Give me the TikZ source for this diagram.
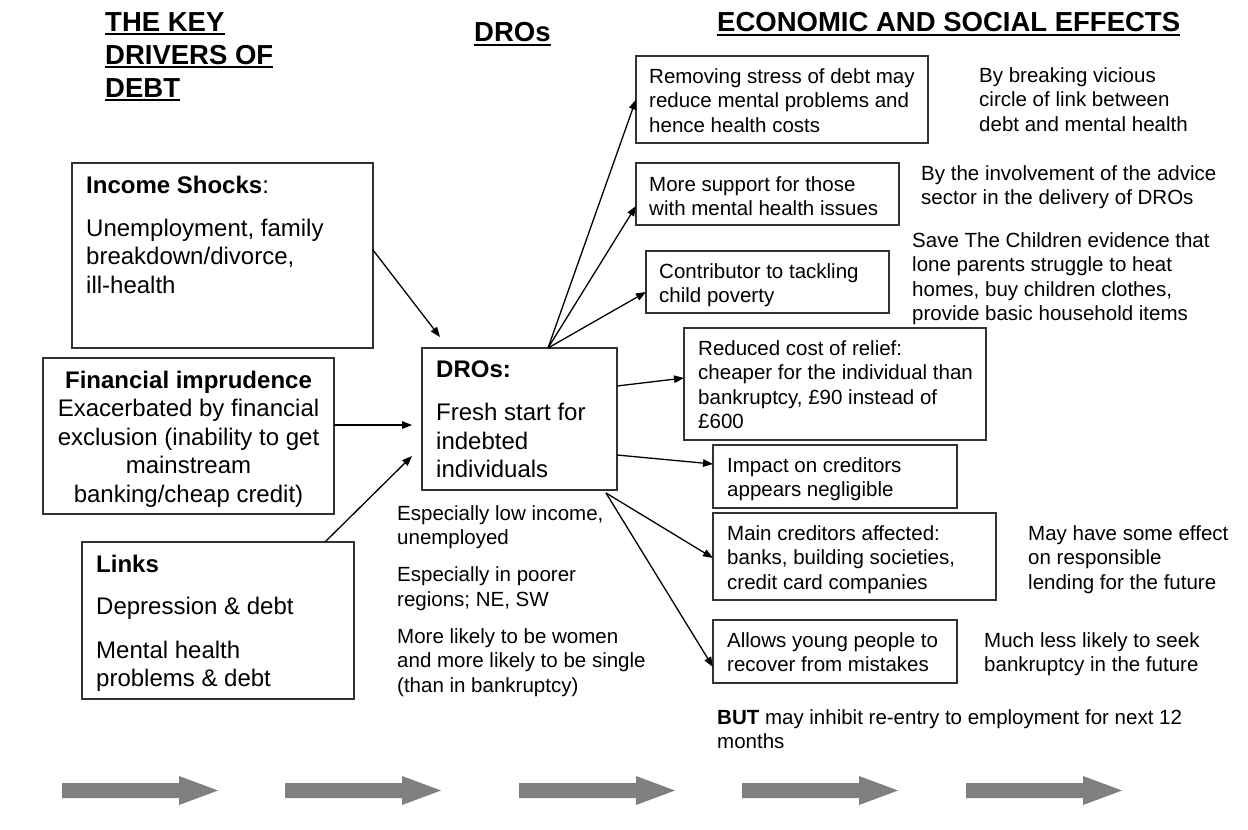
\documentclass[tikz,border=0pt]{standalone}
\usepackage{fontspec}
\setmainfont{Liberation Sans}
\usetikzlibrary{arrows.meta,calc}

\definecolor{boxline}{HTML}{333333}
\definecolor{flowgray}{HTML}{808080}

\newcommand{\headfont}{\fontsize{27.5}{33}\selectfont\bfseries}
\newcommand{\bigtext}{\fontsize{24}{28.5}\selectfont}
\newcommand{\smalltext}{\fontsize{20.5}{24.6}\selectfont}

\tikzset{
  box/.style={draw=boxline, line width=1.2pt, rectangle, inner sep=0pt, outer sep=0pt, anchor=north west},
  head/.style={inner sep=0pt, anchor=base west, font=\headfont},
  bigtxt/.style={inner sep=0pt, anchor=north west, align=left, font=\bigtext},
  smalltxt/.style={inner sep=0pt, anchor=north west, align=left, font=\smalltext},
  link/.style={line width=1.3pt, -{Triangle[length=10pt,width=7.5pt]}},
  uline/.style={line width=2pt},
  flowarrow/.pic={
    \fill[flowgray] (0,-7.5) -- (117,-7.5) -- (117,-14.5) -- (156,0)
      -- (117,14.5) -- (117,7.5) -- (0,7.5) -- cycle;
  }
}

\begin{document}
\begin{tikzpicture}[x=1pt, y=-1pt]
  \fill[white] (0,0) rectangle (1248,830);
  \useasboundingbox (0,0) rectangle (1248,830);

  % column headings
  \node[head] (h1) at (105,31) {THE KEY};
  \node[head] (h2) at (105,64) {DRIVERS OF};
  \node[head] (h3) at (105,97) {DEBT};
  \node[head] (h4) at (474,41.5) {DROs};
  \node[head] (h5) at (717,31.5) {ECONOMIC AND SOCIAL EFFECTS};
  \foreach \h in {h1,h2,h3,h4,h5}
    \draw[uline] ([yshift=-3pt]\h.base west) -- ([yshift=-3pt]\h.base east);

  % drivers of debt
  \node[box, minimum width=301pt, minimum height=185pt] (inc) at (72,163) {};
  \node[bigtxt] (inctxt) at (86,175.6)
    {\textbf{Income Shocks}:\\[14.5pt] Unemployment, family\\ breakdown/divorce,\\ ill-health};

  \node[box, minimum width=291pt, minimum height=156pt] (fin) at (43,358) {};
  \node[bigtxt, align=center, anchor=north] (fintxt) at (188.5,370.6)
    {\textbf{Financial imprudence}\\ Exacerbated by financial\\ exclusion (inability to get\\ mainstream\\ banking/cheap credit)};

  \node[box, minimum width=272pt, minimum height=157pt] (links) at (82,542) {};
  \node[bigtxt] (linkstxt) at (96,554.6)
    {\textbf{Links}\\[13.5pt] Depression \& debt\\[15.5pt] Mental health\\ problems \& debt};

  % the DRO itself
  \node[box, minimum width=195pt, minimum height=142pt] (dro) at (422,348) {};
  \node[bigtxt] (drotxt) at (436,360.6)
    {\textbf{DROs:}\\[14.5pt] Fresh start for\\ indebted\\ individuals};

  \node[smalltxt] (who) at (397,505.1)
    {Especially low income,\\ unemployed\\[12.4pt] Especially in poorer\\ regions; NE, SW\\[12.4pt]
     More likely to be women\\ and more likely to be single\\ (than in bankruptcy)};

  % effects
  \node[box, minimum width=292pt, minimum height=87pt] (b1) at (636,56) {};
  \node[smalltxt] at (649,68.1) {Removing stress of debt may\\ reduce mental problems and\\ hence health costs};

  \node[box, minimum width=263pt, minimum height=62pt] (b2) at (636,163) {};
  \node[smalltxt] at (649,176.1) {More support for those\\ with mental health issues};

  \node[box, minimum width=243pt, minimum height=62pt] (b3) at (646,251) {};
  \node[smalltxt] at (659,263.1) {Contributor to tackling\\ child poverty};

  \node[box, minimum width=302pt, minimum height=112pt] (b4) at (684,328) {};
  \node[smalltxt] at (698,340.1) {Reduced cost of relief:\\ cheaper for the individual than\\ bankruptcy, £90 instead of\\ £600};

  \node[box, minimum width=244pt, minimum height=63pt] (b5) at (713,445) {};
  \node[smalltxt] at (727,457.1) {Impact on creditors\\ appears negligible};

  \node[box, minimum width=283pt, minimum height=87pt] (b6) at (713,513) {};
  \node[smalltxt] at (727,525.1) {Main creditors affected:\\ banks, building societies,\\ credit card companies};

  \node[box, minimum width=244pt, minimum height=63pt] (b7) at (713,620) {};
  \node[smalltxt] at (727,632.1) {Allows young people to\\ recover from mistakes};

  % side remarks
  \node[smalltxt] at (979,67.1) {By breaking vicious\\ circle of link between\\ debt and mental health};
  \node[smalltxt] at (921,165.1) {By the involvement of the advice\\ sector in the delivery of DROs};
  \node[smalltxt] at (912,232.1) {Save The Children evidence that\\ lone parents struggle to heat\\ homes, buy children clothes,\\ provide basic household items};
  \node[smalltxt] at (1028,525.1) {May have some effect\\ on responsible\\ lending for the future};
  \node[smalltxt] at (984,632.1) {Much less likely to seek\\ bankruptcy in the future};
  \node[smalltxt] at (717,709.1) {\textbf{BUT} may inhibit re-entry to employment for next 12\\ months};

  % connectors into the DRO
  \draw[link] ([yshift=5.5pt]inc.east) -- ([xshift=18pt,yshift=11pt]dro.north west);
  \draw[link] ([yshift=11pt]fin.east) -- ([xshift=-10pt,yshift=-6pt]dro.west);
  \draw[link] ([xshift=-29pt]links.north east) -- ([xshift=-10pt,yshift=-37pt]dro.west);

  % connectors out of the DRO
  \draw[link] ([xshift=28.5pt]dro.north) -- (b1.west);
  \draw[link] ([xshift=28.5pt]dro.north) -- ([yshift=-12pt]b2.west);
  \draw[link] ([xshift=28.5pt]dro.north) -- ([yshift=-10pt]b3.west);
  \draw[link] ([yshift=33pt]dro.east) -- ([yshift=6pt]b4.west);
  \draw[link] ([yshift=-36pt]dro.east) -- ([yshift=12.5pt]b5.west);
  \draw[link] ([xshift=-11pt,yshift=-3pt]dro.south east) -- ([yshift=-1.5pt]b6.west);
  \draw[link] ([xshift=-11pt,yshift=-3pt]dro.south east) -- ([yshift=-15.5pt]b7.west);

  % flow arrows along the bottom
  \foreach \fx in {62,285,519,742,966}
    \pic at (\fx,790.5) {flowarrow};
\end{tikzpicture}
\end{document}
